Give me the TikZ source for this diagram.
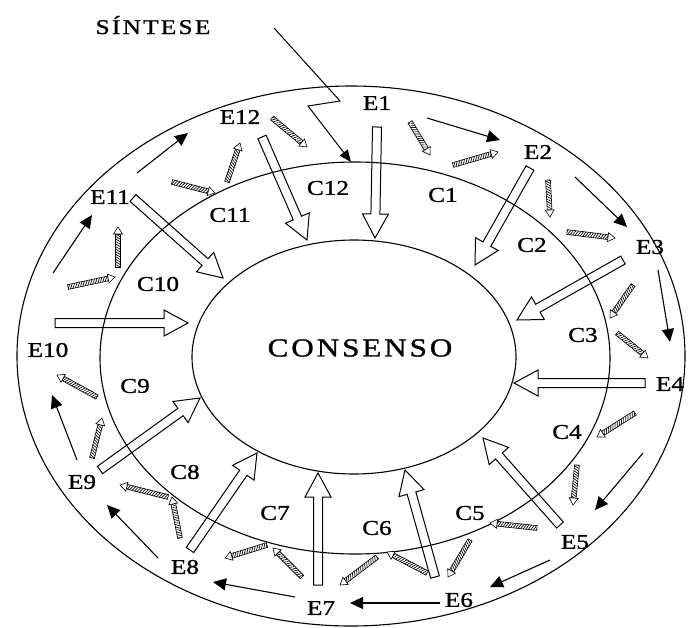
\documentclass[tikz,border=0pt]{standalone}
\usepackage{fontspec}
\setmainfont{Liberation Serif}
\newfontfamily\labfont[FakeStretch=1.2,FakeBold=1.2]{Liberation Serif}
\newfontfamily\widefont[FakeStretch=1.2,FakeBold=1.2,LetterSpace=11]{Liberation Serif}
\usetikzlibrary{calc,arrows.meta,patterns.meta,shapes.geometric}

\tikzset{
  ring/.style={draw, ellipse, line width=1.1pt, inner sep=0pt, minimum width=#1},
  elabel/.style={font=\labfont\fontsize{21}{21}\selectfont, inner sep=0pt},
  flow/.style={line width=1.1pt, -{Triangle[length=13pt,width=12pt]}},
  % wide hollow arrow from start to target
  blockarrow/.style={draw, line width=1pt, line join=miter,
    to path={
      ($(\tikztostart)!4.5pt!90:(\tikztotarget)$)
      -- ($(\tikztotarget)!24pt!(\tikztostart)!4.5pt!-90:(\tikztostart)$)
      -- ($(\tikztotarget)!24pt!(\tikztostart)!13pt!-90:(\tikztostart)$)
      -- (\tikztotarget)
      -- ($(\tikztotarget)!24pt!(\tikztostart)!13pt!90:(\tikztostart)$)
      -- ($(\tikztotarget)!24pt!(\tikztostart)!4.5pt!90:(\tikztostart)$)
      -- ($(\tikztostart)!4.5pt!-90:(\tikztotarget)$)
      -- cycle}},
  % narrow striped shaft and open head
  hshaft/.style={draw, line width=0.6pt,
    to path={
      ($(\tikztostart)!2.4pt!90:(\tikztotarget)$)
      -- ($(\tikztotarget)!7pt!(\tikztostart)!2.4pt!-90:(\tikztostart)$)
      -- ($(\tikztotarget)!7pt!(\tikztostart)!2.4pt!90:(\tikztostart)$)
      -- ($(\tikztostart)!2.4pt!-90:(\tikztotarget)$)
      -- cycle}},
  hhead/.style={draw, fill=white, line width=0.6pt, line join=miter,
    to path={
      ($(\tikztotarget)!7pt!(\tikztostart)!4.5pt!-90:(\tikztostart)$)
      -- (\tikztotarget)
      -- ($(\tikztotarget)!7pt!(\tikztostart)!4.5pt!90:(\tikztostart)$)
      -- cycle}},
}

\begin{document}
\begin{tikzpicture}[x=1pt,y=-1pt]
\useasboundingbox (0,0) rectangle (688,627);

% the three rings
\node[ring=668pt, minimum height=540pt] (outer) at (351,356) {};
\node[ring=510pt, minimum height=392pt] (middle) at (355,358) {};
\node[ring=324pt, minimum height=234pt] (inner) at (354,357) {};

\node[font=\widefont\fontsize{26}{26}\selectfont, inner sep=0pt] (consenso) at (360,348) {CONSENSO};
\node[font=\widefont\fontsize{21}{21}\selectfont, inner sep=0pt, anchor=base] (sintese) at (153,34) {SÍNTESE};

% experts
\foreach \n/\x/\y in {1/377/103, 2/538/152, 3/650/247, 4/670/384, 5/575/542, 6/459/600,
                     7/321/608, 8/185/567, 9/82/482, 10/48/350, 11/110/197, 12/240/117}
  \node[elabel] (e\n) at (\x,\y) {E\n};

% contributions
\foreach \n/\x/\y in {1/443/195, 2/532/245, 3/583/335, 4/567/432, 5/470/513, 6/377/528,
                     7/275/513, 8/185/472, 9/135/386, 10/158/284, 11/230/215, 12/328/188}
  \node[elabel] (c\n) at (\x,\y) {C\n};

% synthesis pointer
\coordinate (s0) at (274,28);
\coordinate (s1) at (340,101);
\coordinate (s2) at (308,106);
\coordinate (s3) at (351,162);
\draw[line width=1pt, -{Triangle[length=12pt,width=10pt]}] (s0) -- (s1) -- (s2) -- (s3);

% wide arrows towards the consensus
\foreach \n/\sx/\sy/\ex/\ey in {1/377/127/375/238, 2/530/168/475/265, 3/623/260/517/320,
    4/645/383/514/383, 5/560/525/483/438, 6/435/577/405/470, 7/318/585/318/473,
    8/190/550/257/453, 9/100/470/200/398, 10/55/323/188/323, 11/133/198/223/278,
    12/262/137/307/240} {
  \coordinate (b\n s) at (\sx,\sy);
  \coordinate (b\n e) at (\ex,\ey);
  \draw[blockarrow] (b\n s) to (b\n e);
}

% circulation between experts
\foreach \n/\sx/\sy/\ex/\ey in {1/427/118/500/140, 2/575/177/627/227, 3/658/270/670/342,
    4/643/453/595/510, 5/550/560/490/587, 6/440/603/350/603, 7/295/597/213/582,
    8/158/558/107/505, 9/77/460/52/395, 10/53/273/92/215, 11/137/173/188/133} {
  \coordinate (a\n s) at (\sx,\sy);
  \coordinate (a\n e) at (\ex,\ey);
  \draw[flow] (a\n s) -- (a\n e);
}

% small striped arrows
\foreach \n/\sx/\sy/\ex/\ey in {1/410/122/430/155, 2/453/165/498/152, 3/548/180/550/217,
    4/567/232/615/238, 5/633/285/610/318, 6/617/333/648/358, 7/635/413/597/437,
    8/577/465/573/505, 9/537/528/490/523, 10/470/540/448/577, 11/427/573/387/552,
    12/377/557/340/585, 13/302/577/273/548, 14/267/545/225/558, 15/180/538/172/497,
    16/168/497/120/485, 17/92/458/102/418, 18/97/397/57/375, 19/68/287/115/277,
    20/118/267/118/227, 21/172/182/215/193, 22/227/182/240/143, 23/272/118/307/147} {
  \coordinate (h\n s) at (\sx,\sy);
  \coordinate (h\n e) at (\ex,\ey);
  \pgfmathsetmacro\ang{atan2(\sy-\ey,\ex-\sx)+60}
  \draw[hshaft, pattern={Lines[angle=\ang,distance=2.2pt,line width=0.7pt]}] (h\n s) to (h\n e);
  \draw[hhead] (h\n s) to (h\n e);
}
\end{tikzpicture}
\end{document}
